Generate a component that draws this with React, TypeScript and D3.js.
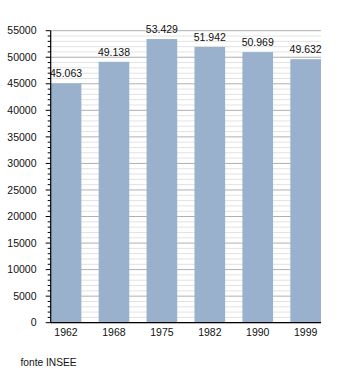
import React from "react";
import * as d3 from "d3";

const years = ["1962", "1968", "1975", "1982", "1990", "1999"];
const population = [45063, 49138, 53429, 51942, 50969, 49632];
const valueLabels = ["45.063", "49.138", "53.429", "51.942", "50.969", "49.632"];
const yTicks = [0, 5000, 10000, 15000, 20000, 25000, 30000, 35000, 40000, 45000, 50000, 55000];
const sourceText = "fonte INSEE";

export default function App() {
  const W = 350, H = 373;
  const left = 50.7, right = 321, top = 30.7, bottom = 322.7;
  const x = d3.scaleBand<string>().domain(years).range([left, right]).paddingInner(0.36).paddingOuter(0);
  const y = d3.scaleLinear().domain([0, 55000]).range([bottom, top]);
  const minor = d3.range(0, 55001, 1000).filter((v) => v % 5000 !== 0);
  const font = "'Liberation Sans', Arial, sans-serif";
  return (
    <svg width={W} height={H} style={{ position: "absolute", left: 0, top: 0, background: "#fff" }} fontFamily={font}>
      {minor.map((v) => (
        <line key={"mg" + v} x1={left} x2={right} y1={y(v)} y2={y(v)} stroke="#e2e2e2" strokeWidth={1} />
      ))}
      {yTicks.map((v) => (
        <line key={"g" + v} x1={left} x2={right} y1={y(v)} y2={y(v)} stroke="#b0b0b0" strokeWidth={1} />
      ))}
      {population.map((v, i) => (
        <rect key={years[i]} x={x(years[i])} y={y(v)} width={x.bandwidth()} height={bottom - y(v)} fill="#99b1cd" />
      ))}
      {population.map((v, i) => (
        <text key={"l" + i} x={(x(years[i]) as number) + x.bandwidth() / 2} y={y(v) - 6} textAnchor="middle" fontSize={10.5} fill="#111">
          {valueLabels[i]}
        </text>
      ))}
      {minor.map((v) => (
        <line key={"mt" + v} x1={left - 3} x2={left} y1={y(v)} y2={y(v)} stroke="#000" strokeWidth={1} />
      ))}
      {yTicks.map((v) => (
        <g key={"t" + v}>
          <line x1={left - 5} x2={left} y1={y(v)} y2={y(v)} stroke="#000" strokeWidth={1} />
          <text x={36.5} y={y(v) + 3.7} textAnchor="end" fontSize={10.5} fill="#111">{v}</text>
        </g>
      ))}
      <line x1={left} x2={left} y1={top} y2={bottom} stroke="#000" strokeWidth={1.2} />
      <line x1={left} x2={right} y1={bottom} y2={bottom} stroke="#000" strokeWidth={1.2} />
      {years.map((yr) => (
        <text key={"x" + yr} x={(x(yr) as number) + x.bandwidth() / 2} y={336} textAnchor="middle" fontSize={10.5} fill="#111">{yr}</text>
      ))}
      <text x={20.5} y={366} fontSize={10.2} fill="#111">{sourceText}</text>
    </svg>
  );
}
